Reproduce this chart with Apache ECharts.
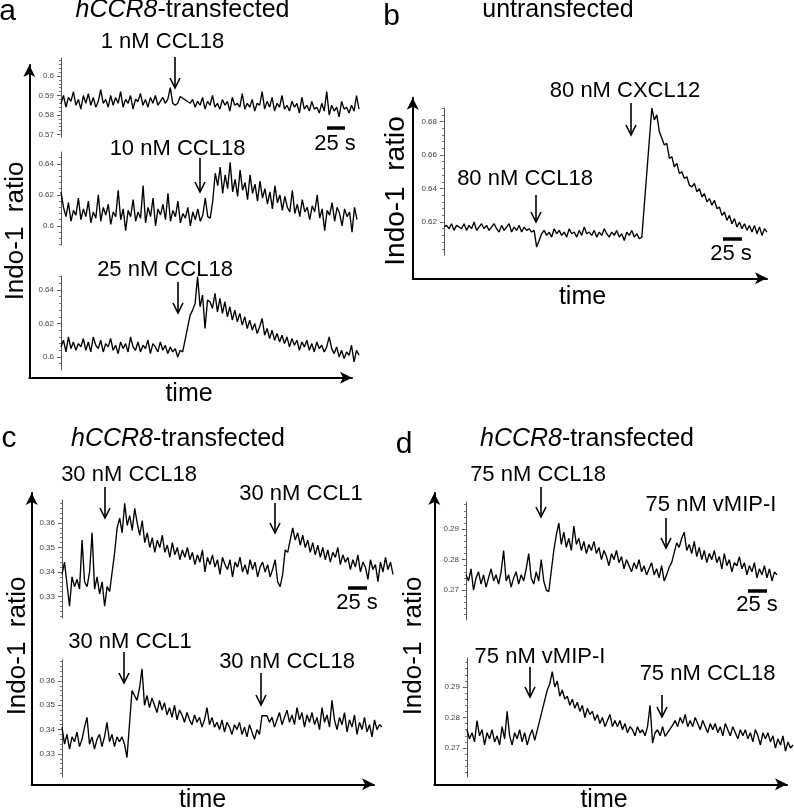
<!DOCTYPE html>
<html><head><meta charset="utf-8">
<script src="https://cdn.jsdelivr.net/npm/echarts@6/dist/echarts.min.js"></script>
<style>html,body{margin:0;padding:0;background:#fff}#c{width:794px;height:812px}</style>
</head><body><div id="c"></div>
<script>
// ---- Data (Indo-1 ratio traces; null = acquisition gap) ----
const a1 = [
.586,.590,.584,.589,.587,.592,.585,.588,.583,.590,
.586,.591,.585,.589,.584,.587,.593,.586,.588,.584,
.590,.585,.589,.586,.592,.584,.588,.586,.590,.583,
.588,.587,.591,.585,.588,.584,.589,.586,.590,.585,
.587,.589,.586,.588,.594,.586,.585,.586,.5895,null,
null,null,.586,.588,.584,.587,.585,.589,.583,.587,
.585,.590,.584,.586,.583,.588,.585,.587,.582,.589,
.585,.586,.584,.591,.583,.586,.584,.588,.582,.586,
.585,.592,.583,.587,.584,.589,.582,.586,.584,.590,
.583,.585,.582,.587,.584,.586,.581,.589,.583,.585,
.582,.587,.583,.584,.581,.586,.582,.592,.580,.585,
.582,.584,.579,.587,.583,.584,.581,.585,.582,.590,
.583];
const a2 = [
.622,.612,.606,.615,.603,.610,.607,.618,.604,.611,
.606,.616,.602,.609,.605,.620,.603,.612,.607,.614,
.601,.609,.606,.623,.604,.611,.597,.610,.606,.617,
.603,.609,.605,.626,.602,.612,.606,.618,.600,.611,
.607,.614,.604,.621,.603,.610,.606,.616,.602,.608,
.605,.612,.600,.609,.604,.611,.603,.607,.618,.606,
.605,.616,.634,.626,.638,.621,.633,.624,.641,.622,
.630,.619,.636,.623,.628,.617,.633,.621,.627,.616,
.629,.618,.624,.614,.622,.611,.626,.615,.620,.610,
.619,.612,.609,.623,.608,.614,.606,.617,.609,.612,
.604,.613,.609,.620,.605,.611,.597,.610,.607,.615,
.603,.612,.608,.600,.611,.606,.609,.596,.612,.604];
const a3 = [
.606,.610,.603,.612,.605,.609,.604,.608,.606,.611,
.604,.609,.603,.612,.607,.605,.610,.603,.608,.606,
.611,.604,.607,.602,.609,.605,.608,.603,.612,.606,
.604,.609,.603,.607,.605,.610,.602,.608,.606,.603,
.609,.604,.607,.602,.606,.603,.605,.600,.604,.603,
null,null,.625,.628,.632,.648,.630,.637,.617,.634,
.633,.629,.638,.627,.635,.626,.633,.624,.630,.622,
.628,.621,.626,.619,.624,.617,.622,.616,.620,.614,
.618,.623,.613,.617,.611,.616,.610,.614,.609,.613,
.608,.612,.606,.611,.607,.610,.604,.609,.606,.610,
.604,.608,.603,.609,.605,.607,.603,.606,.612,.605,
.602,.606,.600,.604,.599,.603,.601,.607,.597,.604,
.601];
const bTrace = [
.617,.618,.616,.619,.615,.618,.617,.616,.619,.615,
.618,.616,.620,.615,.617,.619,.616,.618,.615,.617,
.619,.616,.614,.618,.615,.617,.619,.614,.617,.615,
.618,.614,.617,.615,.616,.614,.615,.605,.609,.613,
.615,.612,.614,.611,.616,.613,.615,.612,.614,.611,
.616,.613,.614,.611,.615,.612,.617,.613,.614,.612,
.615,.611,.614,.612,.616,.613,.611,.614,.612,.615,
.611,.613,.609,.614,.612,.615,.611,.613,.610,.611,
null,null,null,.688,.681,.684,.674,.670,.666,.667,
.658,.659,.653,.655,.649,.650,.646,.647,.642,.641,
.643,.638,.640,.635,.637,.632,.634,.630,.633,.628,
.629,.624,.626,.621,.624,.619,.622,.617,.620,.616,
.619,.615,.618,.614,.618,.613,.617,.612,.616,.614];
const c1 = [
.339,.344,.335,.326,.338,.334,.337,.333,.353,.336,
.334,.340,.356,.333,.338,.331,.336,.326,.334,.332,
.340,.348,.358,.362,.356,.368,.359,.363,.357,.366,
.360,.355,.361,.352,.356,.350,.354,.348,.353,.350,
.355,.348,.351,.346,.352,.347,.350,.345,.349,.346,
.350,.345,.348,.343,.347,.344,.349,.340,.346,.343,
.347,.342,.345,.339,.346,.343,.341,.345,.338,.344,
.342,.346,.340,.343,.339,.345,.341,.344,.338,.342,
.344,.340,.343,.338,.341,.345,.336,.334,.339,.349,
.348,null,.358,.353,.356,.351,.355,.350,.353,.348,
.352,.347,.351,.346,.350,.345,.349,.344,.348,.346,
.350,.343,.347,.344,.346,.341,.345,.342,.347,.340,
.344,.342,.337,.345,.341,.343,.336,.344,.340,.346,
.341,.344,.339];
const c2 = [
.341,.334,.338,.332,.337,.335,.339,.333,.336,.341,
.345,.334,.337,.332,.336,.338,.333,.337,.343,.335,
.338,.333,.337,.335,.337,.334,.3285,null,.356,.354,
.352,.357,.365,.350,.354,.349,.353,.350,.347,.352,
.348,.351,.346,.349,.345,.350,.344,.348,.346,.343,
.347,.344,.342,.346,.343,.345,.341,.344,.349,.342,
.345,.341,.343,.340,.344,.339,.343,.341,.338,.342,
.340,.343,.338,.341,.337,.342,.339,.336,.340,.338,
.3457,.3457,.3457,.343,.345,.341,.344,.347,.342,.345,
.348,.343,.346,.342,.349,.344,.347,.341,.346,.343,
.347,.342,.345,.340,.349,.343,.346,.341,.352,.344,
.340,.345,.342,.347,.339,.344,.341,.346,.338,.343,
.340,.345,.339,.342,.337,.344,.340,.342,.341];
const d1 = [
.275,.273,.277,.270,.274,.276,.272,.275,.271,.274,
.277,.273,.275,.272,.276,.283,.273,.275,.271,.274,
.276,.272,.275,.273,.277,.282,.274,.272,.276,.273,
.280,.273,.270,.2695,null,.283,.288,.292,.285,.289,
.284,.287,.283,.291,.285,.287,.283,.286,.282,.285,
.283,.286,.282,.284,.280,.283,.281,.278,.282,.280,
.283,.279,.281,.277,.280,.278,.276,.279,.277,.280,
.276,.278,.275,.277,.279,.275,.277,.274,.278,.273,
.275,.2775,.279,null,.2855,.284,.287,.289,.283,.285,
.282,.286,.281,.284,.280,.283,.279,.282,.280,.283,
.279,.281,.277,.282,.278,.280,.276,.279,.278,.281,
.277,.279,.275,.278,.276,.279,.274,.277,.275,.278,
.274,.277,.273,.276,.275];
const d2 = [
.276,.273,.275,.272,.279,.274,.276,.271,.275,.273,
.276,.272,.274,.271,.277,.273,.282,.274,.271,.275,
.273,.276,.272,.275,.271,.274,.276,.2725,null,null,
null,null,.289,.291,.295,.290,.292,.287,.289,.286,
.287,.284,.286,.283,.285,.282,.284,.280,.283,.281,
.282,.279,.281,.278,.280,.277,.279,.281,.277,.279,
.277,.279,.276,.278,.275,.277,.276,.274,.277,.275,
.276,.274,.277,.284,.2716,.275,.276,.274,.277,.2738,
null,null,.2775,.279,.277,.280,.278,.281,.277,.279,
.277,.280,.278,.276,.279,.277,.275,.278,.276,.278,
.275,.277,.274,.278,.276,.274,.277,.275,.273,.276,
.274,.276,.273,.275,.272,.276,.274,.271,.275,.273,
.275,.272,.274,.270,.273,.271,.274,.269,.272,.270,
.271];

// ---- Tick labels ----
const ticksA1 = [0.57, 0.58, 0.59, 0.6];
const ticksA23 = [0.6, 0.62, 0.64];
const ticksB = [0.62, 0.64, 0.66, 0.68];
const ticksC = [0.33, 0.34, 0.35, 0.36];
const ticksD = [0.27, 0.28, 0.29];

// ---- Texts ----
const panelLetters = ['a', 'b', 'c', 'd'];
const panelTitles = ['{i|hCCR8}-transfected', 'untransfected', '{i|hCCR8}-transfected', '{i|hCCR8}-transfected'];
const stimulusLabels = ['1 nM CCL18', '10 nM CCL18', '25 nM CCL18', '80 nM CXCL12', '80 nM CCL18',
  '30 nM CCL18', '30 nM CCL1', '30 nM CCL1', '30 nM CCL18',
  '75 nM CCL18', '75 nM vMIP-I', '75 nM vMIP-I', '75 nM CCL18'];
const scaleText = '25 s';
const xName = 'time';
const yName = 'Indo-1  ratio';

// ---- Layout ----
const FONT = '"Liberation Sans", Arial, Helvetica, sans-serif';
const letterPos = [[7.5, 12], [391.5, 16.5], [9, 438.5], [404, 445]];
const titlePos = [[182.5, 10], [558, 10], [178, 439], [587, 439]];
const labelPos = [[162.5, 42.4], [177.5, 149], [165, 270.4], [625, 91.4], [525, 179.4],
  [129, 475.4], [301, 494.4], [130, 642.4], [287, 662.4],
  [538, 475], [711, 505.4], [540, 657.4], [707.5, 674.4]];
const arrowPos = [[175, 57, 88], [200, 158, 192], [178, 282, 313], [631, 103, 135], [536, 195, 222],
  [105, 487, 518], [275, 503, 533], [124, 652, 683], [261, 673, 705],
  [541, 487, 517], [666, 518, 548], [530, 667, 697], [662, 695, 717]];
const scaleBars = [[327, 345, 128, 335, 144.4], [723, 742, 239, 731, 254.4], [348, 367, 588, 357, 602.5], [748, 767, 591, 757, 604.5]];
const xNamePos = [[189, 394], [582.5, 297], [202.5, 800], [604, 800]];
const yNamePos = [[16, 231, 26], [396, 191, 28], [18, 646, 26], [414, 646, 26]];

const bigGrids = [
  {left: 29.3, top: 65, width: 322.7, height: 312.7},
  {left: 412.7, top: 97.7, width: 354.3, height: 180.6},
  {left: 31.7, top: 493, width: 342.3, height: 291.3},
  {left: 434.3, top: 493, width: 352.7, height: 291.3}
];
const inner = [
  {data: a1, left: 61, top: 58, width: 298, height: 79, min: 0.56872, max: 0.60923, ticks: ticksA1, minor: 0.002},
  {data: a2, left: 61, top: 152, width: 296, height: 93, min: 0.5877, max: 0.6477, ticks: ticksA23, minor: 0.004},
  {data: a3, left: 61, top: 276, width: 298, height: 94, min: 0.5922, max: 0.6484, ticks: ticksA23, minor: 0.004},
  {data: bTrace, left: 444, top: 108, width: 323, height: 147, min: 0.6003, max: 0.6881, ticks: ticksB, minor: 0.004},
  {data: c1, left: 62, top: 500, width: 331, height: 118, min: 0.3212, max: 0.3694, ticks: ticksC, minor: 0.002},
  {data: c2, left: 62, top: 660, width: 320, height: 117, min: 0.3205, max: 0.3686, ticks: ticksC, minor: 0.002},
  {data: d1, left: 466, top: 502, width: 311, height: 118, min: 0.2602, max: 0.2989, ticks: ticksD, minor: 0.002},
  {data: d2, left: 467, top: 658, width: 326, height: 119, min: 0.2605, max: 0.2995, ticks: ticksD, minor: 0.002}
];

const grid = [], xAxis = [], yAxis = [], series = [];
bigGrids.forEach((g, i) => {
  grid.push({left: g.left, top: g.top, width: g.width, height: g.height});
  const line = {show: true, onZero: false, symbol: ['none', 'arrow'], symbolSize: [9, 12], lineStyle: {color: '#000', width: 2}};
  xAxis.push({type: 'value', gridIndex: i, min: 0, max: 1, axisLine: line, axisTick: {show: false}, axisLabel: {show: false}, splitLine: {show: false}});
  yAxis.push({type: 'value', gridIndex: i, min: 0, max: 1, axisLine: line, axisTick: {show: false}, axisLabel: {show: false}, splitLine: {show: false}});
});
const fmt = v => String(parseFloat((+v).toFixed(3)));
inner.forEach((p) => {
  const gi = grid.length;
  grid.push({left: p.left, top: p.top, width: p.width, height: p.height});
  const xi = xAxis.length;
  xAxis.push({type: 'category', gridIndex: gi, show: false, boundaryGap: false, data: p.data.map((_, i) => i)});
  const yi = yAxis.length;
  yAxis.push({type: 'value', gridIndex: gi, position: 'left', min: p.min, max: p.max, splitLine: {show: false},
    axisLine: {show: true, lineStyle: {color: '#555', width: 1}},
    axisTick: {show: true, length: 4, customValues: p.ticks, lineStyle: {color: '#555', width: 1}},
    axisLabel: {show: true, customValues: p.ticks, formatter: fmt, margin: 7, fontSize: 8, fontFamily: FONT, color: '#444'}});
  const minorVals = [];
  for (let v = Math.ceil(p.min / p.minor) * p.minor; v <= p.max + 1e-9; v += p.minor) minorVals.push(+v.toFixed(4));
  yAxis.push({type: 'value', gridIndex: gi, position: 'left', offset: 0, min: p.min, max: p.max, splitLine: {show: false},
    axisLine: {show: false}, axisLabel: {show: false},
    axisTick: {show: true, length: 2, customValues: minorVals, lineStyle: {color: '#777', width: 1}}});
  series.push({type: 'line', xAxisIndex: xi, yAxisIndex: yi, data: p.data, symbol: 'none', connectNulls: true,
    silent: true, lineStyle: {color: '#000', width: 1.35}});
});

const graphic = [];
const txt = (x, y, text, size, extra, rot) => ({type: 'text', x: x, y: y, rotation: rot || 0, silent: true,
  style: Object.assign({text: text, fontSize: size, fontFamily: FONT, fill: '#000', align: 'center', verticalAlign: 'middle',
    textAlign: 'center', textVerticalAlign: 'middle'}, extra || {})});
panelLetters.forEach((t, i) => graphic.push(txt(letterPos[i][0], letterPos[i][1], t, 30)));
panelTitles.forEach((t, i) => graphic.push(txt(titlePos[i][0], titlePos[i][1], t, 25,
  {rich: {i: {fontStyle: 'italic', fontSize: 25, fontFamily: FONT, fill: '#000'}}})));
stimulusLabels.forEach((t, i) => graphic.push(txt(labelPos[i][0], labelPos[i][1], t, 22)));
xNamePos.forEach(([x, y]) => graphic.push(txt(x, y, xName, 25)));
yNamePos.forEach(([x, y, s]) => graphic.push(txt(x, y, yName, s, null, Math.PI / 2)));
arrowPos.forEach(([x, y1, y2]) => {
  graphic.push({type: 'line', silent: true, shape: {x1: x, y1: y1, x2: x, y2: y2 - 1}, style: {stroke: '#000', lineWidth: 1.6}});
  graphic.push({type: 'polyline', silent: true, shape: {points: [[x - 5, y2 - 10], [x, y2], [x + 5, y2 - 10]]}, style: {stroke: '#000', lineWidth: 1.6, fill: null}});
});
scaleBars.forEach(([x1, x2, y, tx, ty]) => {
  graphic.push({type: 'line', silent: true, shape: {x1: x1, y1: y, x2: x2, y2: y}, style: {stroke: '#000', lineWidth: 3.5}});
  graphic.push(txt(tx, ty, scaleText, 22));
});

const chart = echarts.init(document.getElementById('c'), null, {renderer: 'canvas'});
chart.setOption({animation: false, backgroundColor: '#fff', grid, xAxis, yAxis, series, graphic});
</script>
</body></html>
